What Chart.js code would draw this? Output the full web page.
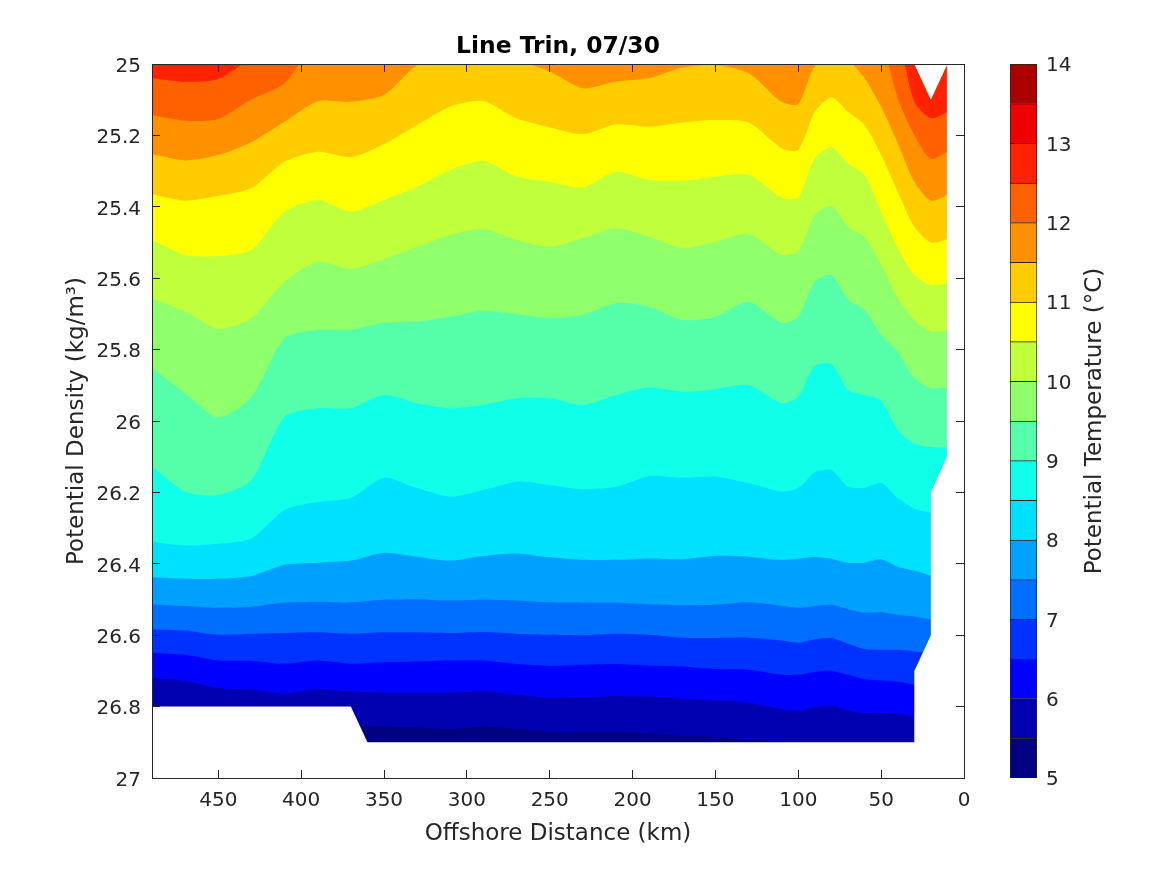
<!DOCTYPE html>
<html>
<head>
<meta charset="utf-8">
<style>
  html, body { margin: 0; padding: 0; background: #fff; }
  #wrap { position: relative; width: 1167px; height: 875px; overflow: hidden; }
  canvas { position: absolute; top: 0; }
  #contourChart { left: 0; }
  #colorbarChart { left: 1000px; }
</style>
<script src="https://cdn.jsdelivr.net/npm/chart.js@4/dist/chart.umd.min.js"></script>
</head>
<body>
<div id="wrap">
  <canvas id="contourChart" width="1167" height="875"></canvas>
  <canvas id="colorbarChart" width="167" height="875"></canvas>
</div>
<script>
// stations along the line (km offshore)
const stations = [490, 470, 450, 430, 410, 390, 370, 350, 330, 310, 290, 270, 250, 230, 210, 190, 170, 150, 130, 110, 100, 90, 80, 70, 60, 50, 40, 30, 20, 10];

// density of each isotherm at each station
const iso130 = [25, 25, 25, 25, 25, 25, 25, 25, 25, 25, 25, 25, 25, 25, 25, 25, 25, 25, 25, 25, 25, 25, 25, 25, 25, 25, 25, 25, 25, 25];
const iso125 = [25.04, 25.05, 25.042, 24.98, 24.9, 24.9, 24.9, 24.9, 24.9, 24.9, 24.9, 24.9, 24.9, 24.9, 24.9, 24.9, 24.9, 24.9, 24.9, 24.9, 24.9, 24.9, 24.9, 24.9, 24.9, 24.9, 24.93, 25.105, 25.152, 25.135];
const iso120 = [25.143, 25.159, 25.154, 25.099, 25.054, 24.93, 24.9, 24.9, 24.9, 24.9, 24.9, 24.9, 24.9, 24.9, 24.9, 24.9, 24.9, 24.9, 24.9, 24.9, 24.9, 24.9, 24.9, 24.9, 24.9, 24.936, 25.096, 25.199, 25.266, 25.246];
const iso115 = [25.253, 25.27, 25.255, 25.219, 25.162, 25.104, 25.106, 25.087, 25.003, 24.97, 24.97, 24.99, 25.021, 25.068, 25.049, 25.04, 25.01, 25.003, 25.026, 25.106, 25.112, 25.005, 24.98, 24.99, 25.04, 25.12, 25.222, 25.33, 25.383, 25.367];
const iso110 = [25.365, 25.383, 25.369, 25.348, 25.274, 25.246, 25.261, 25.225, 25.171, 25.119, 25.104, 25.152, 25.178, 25.197, 25.169, 25.176, 25.164, 25.157, 25.164, 25.236, 25.241, 25.134, 25.093, 25.134, 25.171, 25.255, 25.358, 25.456, 25.5, 25.491];
const iso105 = [25.493, 25.535, 25.538, 25.521, 25.414, 25.381, 25.414, 25.381, 25.344, 25.297, 25.272, 25.316, 25.33, 25.346, 25.302, 25.325, 25.328, 25.316, 25.311, 25.374, 25.374, 25.264, 25.233, 25.278, 25.311, 25.414, 25.516, 25.591, 25.619, 25.614];
const iso100 = [25.656, 25.694, 25.742, 25.712, 25.61, 25.554, 25.574, 25.546, 25.512, 25.479, 25.462, 25.493, 25.512, 25.488, 25.46, 25.484, 25.516, 25.498, 25.476, 25.535, 25.524, 25.423, 25.398, 25.456, 25.484, 25.563, 25.656, 25.717, 25.748, 25.748];
const iso95 = [25.852, 25.922, 25.99, 25.932, 25.768, 25.745, 25.745, 25.725, 25.722, 25.708, 25.692, 25.701, 25.712, 25.703, 25.67, 25.68, 25.717, 25.708, 25.666, 25.725, 25.708, 25.61, 25.591, 25.661, 25.689, 25.759, 25.806, 25.88, 25.908, 25.906];
const iso90 = [26.128, 26.198, 26.207, 26.165, 25.988, 25.964, 25.964, 25.927, 25.95, 25.964, 25.955, 25.936, 25.936, 25.955, 25.927, 25.906, 25.918, 25.911, 25.899, 25.95, 25.932, 25.846, 25.841, 25.913, 25.927, 25.943, 26.025, 26.064, 26.074, 26.074];
const iso85 = [26.338, 26.349, 26.344, 26.329, 26.249, 26.227, 26.216, 26.159, 26.188, 26.212, 26.193, 26.17, 26.179, 26.191, 26.184, 26.154, 26.159, 26.156, 26.174, 26.198, 26.188, 26.144, 26.137, 26.184, 26.187, 26.174, 26.216, 26.245, 26.257, 26.26];
const iso80 = [26.438, 26.442, 26.442, 26.434, 26.403, 26.397, 26.391, 26.369, 26.38, 26.391, 26.378, 26.371, 26.382, 26.389, 26.389, 26.385, 26.387, 26.378, 26.38, 26.389, 26.386, 26.381, 26.386, 26.397, 26.397, 26.387, 26.408, 26.419, 26.433, 26.44];
const iso75 = [26.513, 26.518, 26.523, 26.52, 26.509, 26.506, 26.508, 26.501, 26.499, 26.503, 26.501, 26.503, 26.508, 26.509, 26.509, 26.513, 26.516, 26.515, 26.508, 26.518, 26.523, 26.518, 26.515, 26.527, 26.537, 26.536, 26.543, 26.548, 26.555, 26.56];
const iso70 = [26.583, 26.587, 26.599, 26.596, 26.594, 26.592, 26.596, 26.592, 26.592, 26.594, 26.591, 26.596, 26.599, 26.6, 26.596, 26.599, 26.607, 26.608, 26.607, 26.615, 26.621, 26.611, 26.608, 26.624, 26.639, 26.641, 26.641, 26.646, 26.65, 26.65];
const iso65 = [26.649, 26.655, 26.671, 26.672, 26.68, 26.671, 26.68, 26.676, 26.674, 26.671, 26.671, 26.681, 26.686, 26.683, 26.681, 26.685, 26.688, 26.695, 26.697, 26.711, 26.711, 26.703, 26.7, 26.711, 26.723, 26.727, 26.73, 26.739, 26.75, 26.75];
const iso60 = [26.72, 26.728, 26.748, 26.753, 26.764, 26.751, 26.758, 26.761, 26.761, 26.761, 26.758, 26.767, 26.775, 26.774, 26.77, 26.772, 26.777, 26.783, 26.789, 26.807, 26.811, 26.802, 26.797, 26.811, 26.818, 26.817, 26.82, 26.828, 26.84, 26.84];
const iso55 = [26.85, 26.85, 26.85, 26.85, 26.85, 26.85, 26.85, 26.856, 26.858, 26.863, 26.856, 26.863, 26.872, 26.872, 26.872, 26.875, 26.881, 26.884, 26.893, 26.901, 26.93, 26.93, 26.93, 26.93, 26.93, 26.93, 26.93, 26.93, 26.93, 26.93];

// colours of the bands, warmest first, each painted from its upper isotherm downwards
const bandLines = [iso130, iso125, iso120, iso115, iso110, iso105, iso100, iso95, iso90, iso85, iso80, iso75, iso70, iso65, iso60, iso55];
const bandColors = ['#ff2200', '#ff6000', '#ff9100', '#ffcc00', '#ffff00', '#bfff3c', '#90ff6c', '#55ffaa', '#10ffe8', '#00e1ff', '#00a0ff', '#006eff', '#0032ff', '#0000ff', '#0000b0', '#000080'];

// where there was no data: coast and bottom, and the notch at the surface
const noDataKm = [0, 10.3, 10.3, 20, 20, 30, 30, 360, 370, 490];
const noDataDensity = [25, 25, 26.1, 26.2, 26.6, 26.7, 26.9, 26.9, 26.8, 26.8];
const notchKm = [30, 20, 10];
const notchDensity = [25, 25.1, 25];

const xTicks = [0, 50, 100, 150, 200, 250, 300, 350, 400, 450];
const yTicks = [25, 25.2, 25.4, 25.6, 25.8, 26, 26.2, 26.4, 26.6, 26.8, 27];

// colorbar
const cbarLevels = [5, 5.5, 6, 6.5, 7, 7.5, 8, 8.5, 9, 9.5, 10, 10.5, 11, 11.5, 12, 12.5, 13, 13.5];
const cbarColors = ['#000080', '#0000b0', '#0000ff', '#0032ff', '#006eff', '#00a0ff', '#00e1ff', '#10ffe8', '#55ffaa', '#90ff6c', '#bfff3c', '#ffff00', '#ffcc00', '#ff9100', '#ff6000', '#ff2200', '#ee0000', '#aa0000'];
const cbarTicks = [5, 6, 7, 8, 9, 10, 11, 12, 13, 14];

const INK = '#262626';
const FONT = '"DejaVu Sans", sans-serif';
const TICK_SIZE = 20;
const LABEL_SIZE = 23;

const useTicks = list => scale => { scale.ticks = list.map(v => ({ value: v })); };

// axis with inward tick marks, drawn above the filled bands
function boxAxis(position, min, max, list, extra) {
    return Object.assign({
        type: 'linear',
        position: position,
        min: min,
        max: max,
        afterBuildTicks: useTicks(list),
        border: { display: true, color: INK, width: 1, z: 2 },
        grid: { drawOnChartArea: false, drawTicks: true, tickLength: -8, tickColor: INK, tickWidth: 1, z: 2 },
        ticks: { display: false, autoSkip: false, maxRotation: 0 }
    }, extra);
}

const bandSets = bandLines.map((line, i) => ({
    label: 'band ' + i,
    data: stations.map((km, j) => ({ x: km, y: line[j] })),
    backgroundColor: bandColors[i],
    fill: { value: 27 },
    borderWidth: 0,
    pointRadius: 0,
    tension: 0.25
}));

const maskSets = [
    {
        label: 'no data',
        data: noDataKm.map((km, j) => ({ x: km, y: noDataDensity[j] })),
        backgroundColor: '#ffffff',
        fill: { value: 27 },
        borderWidth: 0,
        pointRadius: 0
    },
    {
        label: 'notch',
        data: notchKm.map((km, j) => ({ x: km, y: notchDensity[j] })),
        backgroundColor: '#ffffff',
        fill: { value: 25 },
        borderWidth: 0,
        pointRadius: 0
    }
];

// lower dataset index paints last, so masks first and warm bands at the end
new Chart(document.getElementById('contourChart'), {
    type: 'line',
    data: { datasets: maskSets.concat(bandSets.slice().reverse()) },
    options: {
        responsive: false,
        animation: false,
        events: [],
        layout: { padding: 0 },
        plugins: {
            legend: { display: false },
            tooltip: { enabled: false },
            title: {
                display: true,
                text: 'Line Trin, 07/30',
                color: '#000',
                fullSize: false,
                font: { family: FONT, size: 23.4, weight: 'bold' },
                padding: { top: 32.5, bottom: 0 }
            }
        },
        scales: {
            x: boxAxis('bottom', 0, 490, xTicks, {
                reverse: true,
                afterFit: s => { s.height = 97; },
                ticks: { display: true, autoSkip: false, maxRotation: 0, color: INK, padding: 19, font: { family: FONT, size: TICK_SIZE }, callback: v => String(v) },
                title: { display: true, text: 'Offshore Distance (km)', color: INK, font: { family: FONT, size: LABEL_SIZE }, padding: { top: 0, bottom: 27.5 } }
            }),
            y: boxAxis('left', 25, 27, yTicks, {
                reverse: true,
                afterFit: s => { s.width = 152; },
                ticks: { display: true, autoSkip: false, maxRotation: 0, color: INK, padding: 19, labelOffset: 2.5, font: { family: FONT, size: TICK_SIZE }, callback: v => String(+v.toFixed(1)) },
                title: { display: true, text: 'Potential Density (kg/m³)', color: INK, font: { family: FONT, size: LABEL_SIZE }, padding: { top: 63, bottom: 0 } }
            }),
            x2: boxAxis('top', 0, 490, xTicks, {
                reverse: true,
                afterFit: s => { s.height = 3.42; }
            }),
            y2: boxAxis('right', 25, 27, yTicks, {
                reverse: true,
                afterFit: s => { s.width = 203; }
            })
        }
    }
});

// axis title reads upwards, which a right hand scale title will not do
const colorbarTitle = {
    id: 'colorbarTitle',
    afterDraw(chart) {
        const ctx = chart.ctx;
        const area = chart.chartArea;
        ctx.save();
        ctx.translate(95, (area.top + area.bottom) / 2);
        ctx.rotate(-Math.PI / 2);
        ctx.textAlign = 'center';
        ctx.textBaseline = 'middle';
        ctx.fillStyle = INK;
        ctx.font = LABEL_SIZE + 'px ' + FONT;
        ctx.fillText('Potential Temperature (°C)', 0, 0);
        ctx.restore();
    }
};

new Chart(document.getElementById('colorbarChart'), {
    type: 'bar',
    data: {
        labels: [''],
        datasets: cbarLevels.map((lo, i) => ({
            label: lo + '-' + (lo + 0.5),
            data: [[lo, lo + 0.5]],
            backgroundColor: cbarColors[i],
            borderColor: INK,
            borderWidth: 1,
            barPercentage: 1,
            categoryPercentage: 1
        }))
    },
    plugins: [colorbarTitle],
    options: {
        responsive: false,
        animation: false,
        events: [],
        layout: { padding: { top: 64, bottom: 97, left: 10, right: 0 } },
        plugins: { legend: { display: false }, tooltip: { enabled: false } },
        scales: {
            x: { stacked: true, display: false },
            y: {
                position: 'right',
                min: 5,
                max: 14,
                afterBuildTicks: useTicks(cbarTicks),
                afterFit: s => { s.width = 130; },
                border: { display: false },
                grid: { drawOnChartArea: false, drawTicks: false },
                ticks: { color: INK, padding: 9, labelOffset: 2, font: { family: FONT, size: TICK_SIZE } }
            }
        }
    }
});
</script>
</body>
</html>
